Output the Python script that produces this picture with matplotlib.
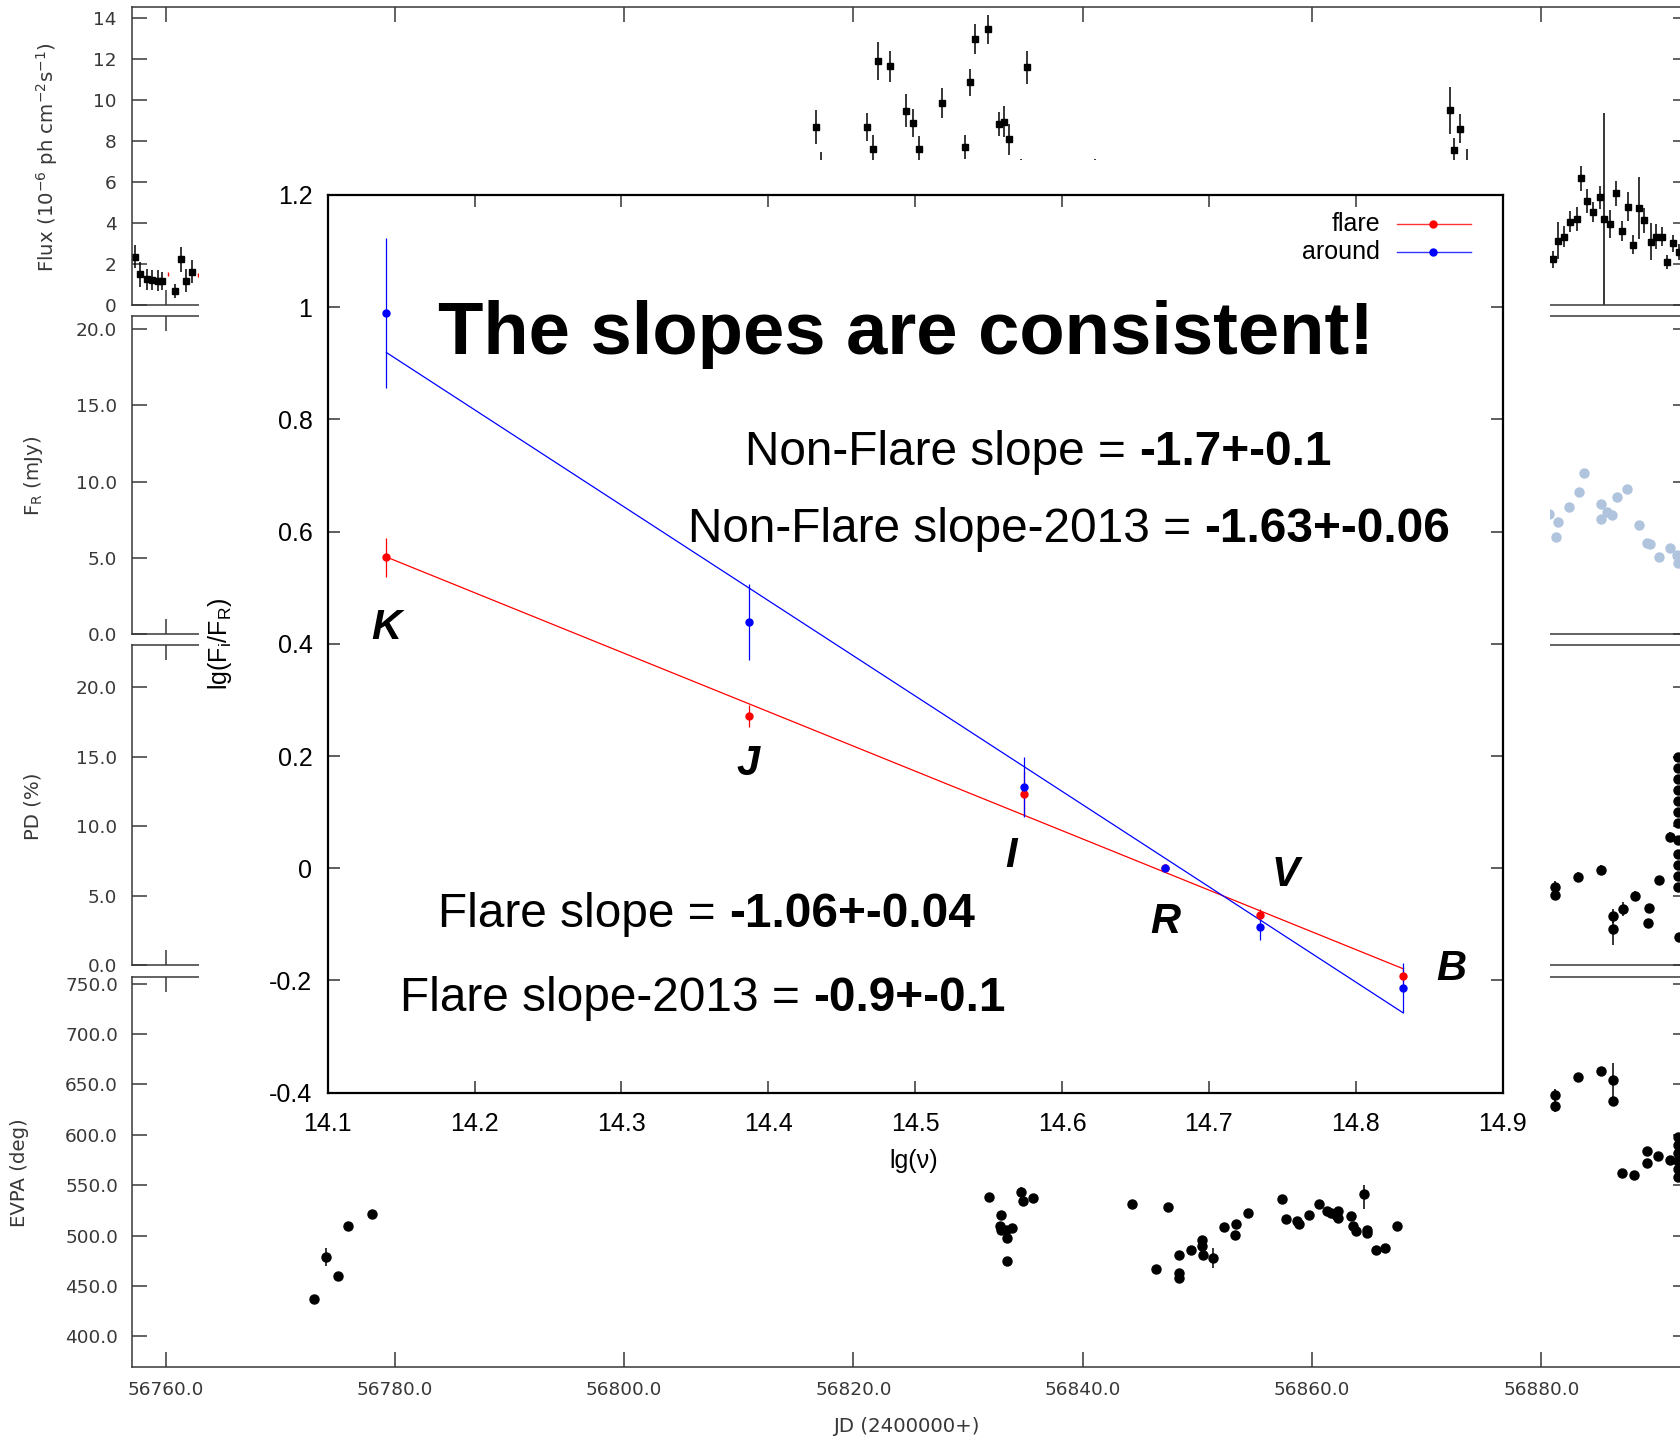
import numpy as np
import matplotlib.pyplot as plt
from matplotlib.patches import Rectangle
from matplotlib.lines import Line2D

plt.rcParams['font.family'] = ['DejaVu Sans']
plt.rcParams['axes.unicode_minus'] = False

# ---- light curves (JD - 2400000) ----
flux_jd = [56757.3, 56757.8, 56758.4, 56758.8, 56759.3, 56759.7, 56760.8, 56761.3, 56761.8, 56762.3,
           56816.7, 56817.2, 56821.2, 56821.7, 56822.1, 56823.2, 56824.6, 56825.2, 56825.7, 56827.7,
           56829.7, 56830.2, 56830.6, 56831.7, 56832.7, 56833.1, 56833.6, 56834.6, 56835.1, 56835.6,
           56841.1, 56872.0, 56872.4, 56872.9, 56873.5,
           56881.0, 56881.5, 56882.0, 56882.5, 56883.1, 56883.5, 56884.0, 56884.5, 56885.1, 56885.5,
           56886.0, 56886.5, 56887.0, 56887.6, 56888.0, 56888.5, 56889.0, 56889.6, 56890.0, 56890.5,
           56891.0, 56891.5, 56892.0]
flux_val = [2.36, 1.50, 1.25, 1.22, 1.19, 1.17, 0.70, 2.23, 1.19, 1.63,
            8.69, 6.60, 8.69, 7.63, 11.93, 11.67, 9.49, 8.90, 7.63, 9.88,
            7.71, 10.87, 13.00, 13.46, 8.84, 8.95, 8.10, 6.60, 11.60, 6.50,
            6.00, 9.50, 7.57, 8.61, 6.80,
            2.23, 3.14, 3.34, 4.07, 4.20, 6.18, 5.08, 4.54, 5.26, 4.20,
            3.95, 5.45, 3.61, 4.80, 2.94, 4.74, 4.13, 3.09, 3.34, 3.34,
            2.10, 3.01, 2.60]
flux_err = [0.55, 0.60, 0.50, 0.50, 0.50, 0.45, 0.35, 0.60, 0.55, 0.55,
            0.81, 0.85, 0.67, 0.65, 0.93, 0.76, 0.80, 0.69, 0.60, 0.73,
            0.60, 0.64, 0.73, 0.70, 0.60, 0.76, 0.76, 0.55, 0.80, 0.55,
            1.15, 1.17, 0.60, 0.70, 0.80,
            0.43, 0.90, 0.50, 0.50, 0.60, 0.63, 0.57, 0.50, 0.55, 5.20,
            0.70, 0.60, 0.50, 0.70, 0.46, 1.50, 0.63, 0.90, 0.60, 0.45,
            0.35, 0.40, 0.40]

fr_jd = [56880.7, 56881.3, 56881.5, 56882.4, 56883.25, 56883.7, 56885.2, 56885.2, 56885.7, 56886.2,
         56886.6, 56887.5, 56888.5, 56889.2, 56889.5, 56890.3, 56891.2, 56891.8, 56891.95]
fr_val = [7.85, 6.38, 7.36, 8.31, 9.29, 10.54, 8.52, 7.52, 8.02, 7.80,
          9.00, 9.49, 7.15, 5.95, 5.90, 5.07, 5.62, 5.18, 4.64]

pd_jd = [56881.2, 56881.2, 56883.2, 56885.2, 56886.3, 56886.3, 56887.1, 56888.2, 56889.3, 56889.4,
         56890.3, 56891.2, 56891.95, 56891.95, 56891.95, 56891.95, 56891.95, 56891.95, 56891.95,
         56891.95, 56891.95, 56891.95, 56891.95, 56891.95, 56892.0]
pd_val = [5.65, 5.05, 6.36, 6.85, 3.53, 2.57, 4.01, 4.97, 3.05, 4.08,
          6.13, 9.25, 15.0, 14.2, 13.4, 12.6, 11.8, 11.0, 10.2,
          9.0, 8.0, 7.2, 6.4, 5.6, 2.04]
pd_err = [0.4, 0.4, 0.35, 0.35, 0.5, 1.1, 0.5, 0.35, 0.3, 0.3,
          0.3, 0.3, 0.3, 0.3, 0.3, 0.3, 0.3, 0.3, 0.3,
          0.3, 0.3, 0.3, 0.3, 0.3, 0.3]

evpa_jd = [56772.96, 56773.96, 56775.0, 56775.93, 56777.97,
           56831.8, 56832.9, 56832.8, 56832.9, 56833.3, 56833.8, 56833.4, 56833.4, 56834.6, 56834.8,
           56835.7, 56844.3, 56846.4, 56847.4, 56848.4, 56848.4, 56848.4, 56849.4, 56850.4, 56850.4,
           56850.5, 56851.4, 56852.3, 56853.35, 56853.3, 56854.4, 56857.4, 56857.7, 56858.7, 56858.9,
           56859.7, 56860.6, 56861.3, 56861.7, 56862.1, 56862.3, 56862.3, 56863.4, 56863.6, 56863.8,
           56864.5, 56864.8, 56864.8, 56865.6, 56866.4, 56867.4,
           56881.2, 56881.2, 56883.2, 56885.2, 56886.3, 56886.3, 56887.05, 56888.1, 56889.2, 56889.2,
           56890.2, 56891.2, 56891.95, 56891.95, 56891.95, 56891.95, 56891.95, 56891.95]
evpa_val = [437.1, 478.8, 459.5, 509.5, 521.7,
            538.3, 520.7, 509.8, 505.2, 505.9, 507.5, 497.6, 475.1, 543.8, 533.9,
            537.3, 531.6, 467.2, 528.4, 481.0, 462.9, 457.9, 486.0, 495.9, 489.3,
            481.0, 477.8, 508.5, 511.8, 500.9, 522.4, 536.6, 516.5, 514.8, 511.8,
            520.7, 531.6, 524.0, 522.4, 520.7, 524.0, 517.5, 519.7, 509.8, 504.2,
            541.3, 505.9, 502.6, 486.0, 487.7, 509.8,
            639.1, 628.9, 657.3, 662.9, 654.7, 633.8, 562.6, 560.4, 583.8, 572.3,
            578.6, 575.3, 598.0, 590.0, 582.0, 574.0, 566.0, 558.0]
evpa_err = [4, 9, 4, 4, 4,
            4, 4, 4, 4, 4, 4, 4, 4, 4, 4,
            4, 4, 4, 4, 4, 4, 4, 4, 4, 4,
            4, 10, 4, 4, 4, 4, 4, 4, 4, 4,
            4, 4, 4, 4, 4, 4, 4, 4, 4, 4,
            15, 4, 4, 4, 4, 4,
            6, 6, 4, 4, 17, 4, 4, 4, 4, 4,
            4, 4, 4, 4, 4, 4, 4, 4]

jd_ticks = [56760, 56780, 56800, 56820, 56840, 56860, 56880]

# ---- colour ratios vs frequency ----
bands = ['K', 'J', 'I', 'R', 'V', 'B']
lgnu = [14.140, 14.387, 14.574, 14.670, 14.735, 14.832]
flare_y = [0.554, 0.271, 0.133, 0.0, -0.083, -0.192]
flare_err = [0.034, 0.020, 0.040, 0.0, 0.010, 0.015]
around_y = [0.990, 0.439, 0.145, 0.0, -0.104, -0.213]
around_err = [0.134, 0.067, 0.053, 0.0, 0.024, 0.045]
flare_slope, flare_mid = -1.06, 0.188
around_slope, around_mid = -1.7, 0.331
band_lx = [14.140, 14.386, 14.565, 14.670, 14.752, 14.865]
band_ly = [0.428, 0.185, 0.022, -0.096, -0.012, -0.180]
nu_ticks = [14.1, 14.2, 14.3, 14.4, 14.5, 14.6, 14.7, 14.8, 14.9]
ratio_ticks = [-0.4, -0.2, 0, 0.2, 0.4, 0.6, 0.8, 1.0, 1.2]
ratio_labels = ['-0.4', '-0.2', '0', '0.2', '0.4', '0.6', '0.8', '1', '1.2']

W, H = 1681, 1440
GREY = '#383838'
SANS = 'Liberation Sans'


def fig_box(x0, y0, x1, y1):
    return [x0 / W, 1 - y1 / H, (x1 - x0) / W, (y1 - y0) / H]


fig = plt.figure(figsize=(W / 100, H / 100), dpi=100)

panels = [
    (fig_box(132, 7.3, 1688, 305), (0, 14.54), [0, 2, 4, 6, 8, 10, 12, 14], '%d'),
    (fig_box(132, 315.6, 1688, 634), (0, 20.88), [0, 5, 10, 15, 20], '%.1f'),
    (fig_box(132, 645, 1688, 965), (0, 23.06), [0, 5, 10, 15, 20], '%.1f'),
    (fig_box(132, 977, 1688, 1366.7), (370, 756.6), [400, 450, 500, 550, 600, 650, 700, 750], '%.1f'),
]
axs = []
for rect, ylim, yt, fmt in panels:
    a = fig.add_axes(rect)
    a.set_xlim(56757.06, 56892.8)
    a.set_ylim(*ylim)
    a.set_yticks(yt)
    a.set_yticklabels([fmt % v for v in yt])
    a.set_xticks(jd_ticks)
    a.tick_params(direction='in', length=11, width=1.1, top=True, right=True,
                  labelsize=13.3, labelcolor=GREY, color=GREY, pad=11, labelbottom=False)
    for s in a.spines.values():
        s.set_color(GREY)
        s.set_linewidth(1.1)
    axs.append(a)
ax_flux, ax_fr, ax_pd, ax_evpa = axs

ax_flux.errorbar(flux_jd, flux_val, yerr=flux_err, fmt='s', color='black', ms=4.5,
                 elinewidth=1.1, capsize=0)
ax_flux.plot([56760.2, 56762.8], [1.5, 1.45], '|', color='red', ms=2.5)
ax_fr.plot(fr_jd, fr_val, 'o', color='#b0c4de', ms=7.5, mec='none')
ax_pd.errorbar(pd_jd, pd_val, yerr=pd_err, fmt='o', color='black', ms=6.5,
               elinewidth=1.1, capsize=0)
ax_evpa.errorbar(evpa_jd, evpa_val, yerr=evpa_err, fmt='o', color='black', ms=6.5,
                 elinewidth=1.1, capsize=0)
ax_evpa.set_xticklabels(['%.1f' % v for v in jd_ticks])
ax_evpa.tick_params(labelbottom=True, pad=10)

LAB = 14.2
fig.text(47 / W, 1 - 157 / H, 'Flux (10$^{\\mathregular{-6}}$ ph cm$^{\\mathregular{-2}}$s$^{\\mathregular{-1}}$)',
         rotation=90, ha='center', va='center', fontsize=LAB, color=GREY)
fig.text(34 / W, 1 - 476 / H, 'F$_{\\mathregular{R}}$ (mJy)', rotation=90,
         ha='center', va='center', fontsize=LAB, color=GREY)
fig.text(33 / W, 1 - 806 / H, 'PD (%)', rotation=90, ha='center', va='center',
         fontsize=LAB, color=GREY)
fig.text(20 / W, 1 - 1173 / H, 'EVPA (deg)', rotation=90, ha='center', va='center',
         fontsize=LAB, color=GREY)
fig.text(906 / W, 1 - 1427 / H, 'JD (2400000+)', ha='center', va='center',
         fontsize=LAB, color=GREY)

# white panel that the colour plot sits on
fig.add_artist(Rectangle((199 / W, 1 - 1185 / H), (1550 - 199) / W, (1185 - 160) / H,
                         transform=fig.transFigure, facecolor='white', edgecolor='none',
                         zorder=5))

ax = fig.add_axes(fig_box(327.7, 195, 1502.6, 1092.7), zorder=10)
ax.set_xlim(14.1, 14.9)
ax.set_ylim(-0.4, 1.2)
ax.set_xticks(nu_ticks)
ax.set_xticklabels(['%.1f' % v for v in nu_ticks], family=SANS, fontsize=18)
ax.set_yticks(ratio_ticks)
ax.set_yticklabels(ratio_labels, family=SANS, fontsize=18)
ax.tick_params(direction='in', length=8.5, width=1.1, top=True, right=True, color='#333333')
ax.tick_params(axis='x', pad=14)
ax.tick_params(axis='y', pad=11)
for s in ax.spines.values():
    s.set_linewidth(1.6)

xs = np.array([lgnu[0], lgnu[-1]])
xm = np.mean(xs)
ax.plot(xs, flare_mid + flare_slope * (xs - xm), color='red', lw=0.9)
ax.errorbar(lgnu, flare_y, yerr=flare_err, fmt='o', color='red', ms=5, elinewidth=0.9, capsize=0)
ax.plot(xs, around_mid + around_slope * (xs - xm), color='blue', lw=0.9)
ax.errorbar(lgnu, around_y, yerr=around_err, fmt='o', color='blue', ms=5, elinewidth=0.9, capsize=0)

for name, colour, ly in [('flare', 'red', 0.968), ('around', 'blue', 0.936)]:
    ax.add_line(Line2D([0.910, 0.973], [ly, ly], transform=ax.transAxes, color=colour, lw=1, alpha=0.8))
    ax.plot([0.941], [ly], 'o', transform=ax.transAxes, color=colour, ms=5)
    ax.text(0.8957, ly, name, transform=ax.transAxes, ha='right', va='center',
            fontsize=18, family=SANS)

for b, x, y in zip(bands, band_lx, band_ly):
    ax.text(x, y, b, fontsize=30, weight='bold', style='italic', family=SANS,
            ha='center', va='center')

ax.text(14.175, 0.917, 'The slopes are consistent!', fontsize=53.5, weight='bold',
        family=SANS, va='baseline')


def slope_text(x, y, label, value):
    t = ax.text(x, y, label, fontsize=34.4, family=SANS, va='baseline')
    ax.annotate(value, xy=(1, 0), xycoords=t, xytext=(9.5, 0), textcoords='offset points',
                fontsize=34.4, family=SANS, weight='bold', va='bottom', ha='left')


slope_text(14.384, 0.718, 'Non-Flare slope =', '-1.7+-0.1')
slope_text(14.345, 0.581, 'Non-Flare slope-2013 =', '-1.63+-0.06')
slope_text(14.175, -0.104, 'Flare slope =', '-1.06+-0.04')
slope_text(14.149, -0.255, 'Flare slope-2013 =', '-0.9+-0.1')

ax.text(-0.0917, 0.5, 'lg(F$_{\\mathregular{i}}$/F$_{\\mathregular{R}}$)', transform=ax.transAxes,
        rotation=90, ha='center', va='center', fontsize=18, family=SANS)
ax.text(0.499, -0.076, 'lg(ν)', transform=ax.transAxes, ha='center', va='center',
        fontsize=18, family=SANS)

fig.savefig('out.png', dpi=100)
